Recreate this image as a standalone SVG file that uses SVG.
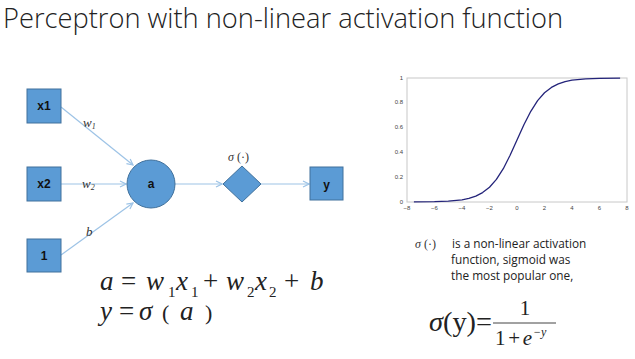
<svg xmlns="http://www.w3.org/2000/svg" width="635" height="359" viewBox="0 0 635 359">
<style>
.node{fill:#5b9bd5;stroke:#41719c;stroke-width:1}
.nlab{font-family:"Liberation Sans",Arial,sans-serif;font-weight:bold;font-size:12px;fill:#111;text-anchor:middle}
.edge{stroke:#9dc3e6;stroke-width:1.2;fill:none}
.elab{font-family:"Liberation Serif","Times New Roman",serif;font-style:italic;font-size:13px;fill:#333}
.sub{font-size:8px}
.math{font-family:"Liberation Serif","Times New Roman",serif;font-size:27px;fill:#222}
.mi{font-style:italic}
.msub{font-size:15px;font-style:normal}
.tick{font-family:"Liberation Sans",Arial,sans-serif;font-size:6px;fill:#444}
.desc{font-family:"Open Sans","Liberation Sans",sans-serif;font-size:11.8px;fill:#222}
</style>
<defs>
<marker id="arr" markerWidth="8" markerHeight="8" refX="7" refY="4" orient="auto" markerUnits="userSpaceOnUse">
<path d="M1,1 L7,4 L1,7" fill="none" stroke="#9dc3e6" stroke-width="1.2"/>
</marker>
</defs>
<rect width="635" height="359" fill="#fff"/>
<text x="3" y="28" font-family="'Open Sans','Liberation Sans',sans-serif" font-weight="300" font-size="27" fill="#222" textLength="560" lengthAdjust="spacingAndGlyphs">Perceptron with non-linear activation function</text>

<g id="connectors">
<line class="edge" x1="61" y1="107" x2="133" y2="165" marker-end="url(#arr)"/>
<line class="edge" x1="61" y1="184" x2="126" y2="184" marker-end="url(#arr)"/>
<line class="edge" x1="61" y1="255" x2="133" y2="203" marker-end="url(#arr)"/>
<line class="edge" x1="175" y1="184" x2="222" y2="184" marker-end="url(#arr)"/>
<line class="edge" x1="261" y1="184" x2="309" y2="184" marker-end="url(#arr)"/>
<text class="elab" x="83" y="127">w<tspan class="sub" dy="2">1</tspan></text>
<text class="elab" x="82" y="188">w<tspan class="sub" dy="2">2</tspan></text>
<text class="elab" x="86" y="236">b</text>
</g>

<g id="x1"><rect class="node" x="27" y="89" width="34" height="34"/><text class="nlab" x="44" y="110">x1</text></g>
<g id="x2"><rect class="node" x="27" y="167" width="34" height="34"/><text class="nlab" x="44" y="188">x2</text></g>
<g id="one"><rect class="node" x="27" y="239" width="34" height="33"/><text class="nlab" x="44" y="260">1</text></g>
<g id="a"><circle class="node" cx="151" cy="184" r="24"/><text class="nlab" x="151" y="188" font-size="10">a</text></g>
<g id="sigma"><path class="node" d="M242,166 L261,184 L242,202 L223,184 Z"/>
<text x="228" y="161" font-family="'Liberation Serif',serif" font-size="12" fill="#333"><tspan font-style="italic">σ</tspan> (·)</text></g>
<g id="y"><rect class="node" x="310" y="167" width="33" height="33"/><text class="nlab" x="326.5" y="189">y</text></g>

<g id="formula-left">
<text class="math mi" y="290"><tspan x="100">a</tspan><tspan x="121" font-style="normal">=</tspan><tspan x="146">w</tspan><tspan class="msub" x="168" dy="7">1</tspan><tspan x="176" dy="-7">x</tspan><tspan class="msub" x="191" dy="7">1</tspan><tspan x="203" dy="-7" font-style="normal">+</tspan><tspan x="226">w</tspan><tspan class="msub" x="247" dy="7">2</tspan><tspan x="255" dy="-7">x</tspan><tspan class="msub" x="269" dy="7">2</tspan><tspan x="284" dy="-7" font-style="normal">+</tspan><tspan x="310">b</tspan></text>
<text class="math mi" y="320"><tspan x="100">y</tspan><tspan x="119" font-style="normal">=</tspan><tspan x="139">σ</tspan><tspan x="162" font-style="normal" font-size="22">(</tspan><tspan x="180">a</tspan><tspan x="205" font-style="normal" font-size="22">)</tspan></text>
</g>

<g id="plot">
<rect x="407" y="78" width="220" height="124" fill="none" stroke="#c8c8c8" stroke-width="1"/>
<g class="tick" text-anchor="end">
<text x="403" y="80">1</text>
<text x="403" y="104">0.8</text>
<text x="403" y="129">0.6</text>
<text x="403" y="154">0.4</text>
<text x="403" y="179">0.2</text>
<text x="403" y="204">0</text>
</g>
<g class="tick" text-anchor="middle">
<text x="407" y="210">−8</text>
<text x="434.5" y="210">−6</text>
<text x="462" y="210">−4</text>
<text x="489.5" y="210">−2</text>
<text x="517" y="210">0</text>
<text x="544.5" y="210">2</text>
<text x="572" y="210">4</text>
<text x="599.5" y="210">6</text>
<text x="627" y="210">8</text>
</g>
<path d="M413.9,201.9 L434.5,201.7 L448.3,201.2 L462,199.8 L468.9,198.4 L475.8,196.1 L482.6,192.6 L489.5,187.2 L496.4,179.4 L503.3,168.7 L510.1,155.2 L517,140 L523.9,124.8 L530.8,111.3 L537.6,100.6 L544.5,92.8 L551.4,87.4 L558.3,83.9 L565.1,81.6 L572,80.2 L585.8,78.8 L599.5,78.3 L620.1,78.1" fill="none" stroke="#24247a" stroke-width="1.3" stroke-linejoin="round"/>
</g>

<g id="description">
<text x="415" y="248" font-family="'Liberation Serif',serif" font-size="12" fill="#333"><tspan font-style="italic">σ</tspan> (·)</text>
<text class="desc" x="452" y="248">is a non-linear activation</text>
<text class="desc" x="451" y="264">function, sigmoid was</text>
<text class="desc" x="451" y="280">the most popular one,</text>
</g>

<g id="formula-right" font-family="'Liberation Serif','Times New Roman',serif" fill="#222">
<text x="429" y="331" font-size="28" textLength="63" lengthAdjust="spacingAndGlyphs"><tspan font-style="italic">σ</tspan>(y)=</text>
<line x1="493" y1="323" x2="556" y2="323" stroke="#444" stroke-width="1"/>
<text x="525" y="315" font-size="21" text-anchor="middle">1</text>
<text x="495" y="345" font-size="21" textLength="37" lengthAdjust="spacing">1+<tspan font-style="italic">e</tspan></text>
<text x="533" y="336" font-size="12" font-style="italic">−y</text>
</g>
</svg>
